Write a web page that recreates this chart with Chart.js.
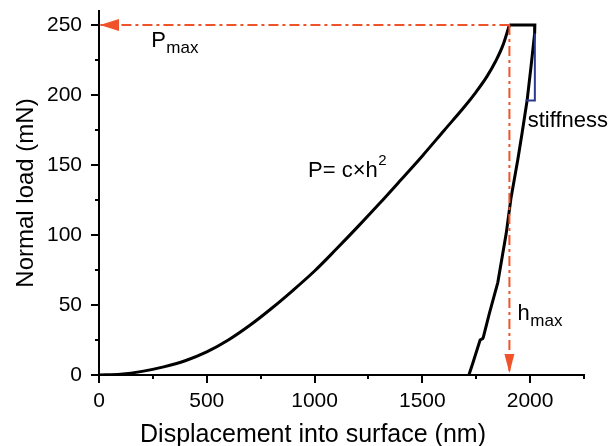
<!DOCTYPE html>
<html>
<head>
<meta charset="utf-8">
<script src="https://cdn.jsdelivr.net/npm/chart.js@4.4.1/dist/chart.umd.min.js"></script>
<style>
  html, body { margin: 0; padding: 0; background: #fff; }
  #wrap { width: 616px; height: 446px; }
</style>
</head>
<body>
<div id="wrap"><canvas id="loadCurve" width="616" height="446"></canvas></div>
<script>
// loading branch (displacement nm, load mN)
const loadH = [0, 100, 200, 300, 400, 500, 600, 700, 800, 900, 1000, 1100, 1200, 1300, 1400, 1500, 1600, 1700, 1750, 1800, 1840, 1875, 1904];
const loadP = [0, 0.6, 2.6, 5.8, 10.2, 16.5, 25, 35.5, 47.5, 60.5, 74.3, 89.8, 105.8, 122.3, 139.3, 156.5, 174.5, 192.5, 202.3, 213.3, 224.1, 236, 250];

// hold + unloading branch
const unloadH = [1904, 2022, 2021, 2004, 1986, 1963, 1943, 1911, 1889, 1850, 1811, 1783, 1780, 1768, 1734, 1716];
const unloadP = [250, 250, 244, 220, 196, 173, 154, 126, 101, 66, 44, 27, 26, 25, 8.4, 0];

// stiffness triangle
const stiffH = [1980, 2022, 2022];
const stiffP = [196, 196, 244];

// Pmax / hmax guides
const pMax = 250;
const hMax = 1904;

const xLabels = [0, 500, 1000, 1500, 2000];
const yLabels = [0, 50, 100, 150, 200, 250];

const FONT = "'Liberation Sans', Arial, Helvetica, sans-serif";
const ORANGE = '#F0522A';
const BLUE = '#2B3990';

function pts(hs, ps) {
    return hs.map((h, i) => ({x: h, y: ps[i]}));
}

const extras = {
    id: 'extras',
    afterDatasetsDraw(chart) {
        const ctx = chart.ctx;
        const x = chart.scales.x, y = chart.scales.y;
        ctx.save();
        ctx.fillStyle = ORANGE;
        // left arrow head (Pmax)
        let tx = x.getPixelForValue(0) + 1, ty = y.getPixelForValue(pMax);
        ctx.beginPath();
        ctx.moveTo(tx, ty);
        ctx.lineTo(tx + 19, ty - 6);
        ctx.lineTo(tx + 19, ty + 6);
        ctx.closePath();
        ctx.fill();
        // down arrow head (hmax)
        tx = x.getPixelForValue(hMax); ty = y.getPixelForValue(0) - 2;
        ctx.beginPath();
        ctx.moveTo(tx, ty);
        ctx.lineTo(tx - 5, ty - 19);
        ctx.lineTo(tx + 5, ty - 19);
        ctx.closePath();
        ctx.fill();

        // text labels
        ctx.fillStyle = '#000';
        ctx.textBaseline = 'alphabetic';
        ctx.textAlign = 'left';
        const sub = (main, small, h, p, superscript) => {
            const px = x.getPixelForValue(h), py = y.getPixelForValue(p);
            ctx.font = '22px ' + FONT;
            ctx.fillText(main, px, py);
            const w = ctx.measureText(main).width;
            ctx.font = (superscript ? '15px ' : '17px ') + FONT;
            ctx.fillText(small, px + w + 0.5, superscript ? py - 12 : py + 6.5);
        };
        sub('P', 'max', 242, 234.5, false);
        sub('h', 'max', 1942, 39.3, false);
        sub('P= c×h', '2', 970, 141.4, true);
        ctx.font = '22px ' + FONT;
        ctx.fillText('stiffness', x.getPixelForValue(1989), y.getPixelForValue(177));
        ctx.restore();
    },
    afterDraw(chart) {
        const ctx = chart.ctx;
        const x = chart.scales.x, y = chart.scales.y;
        ctx.save();
        ctx.strokeStyle = '#000';
        ctx.lineWidth = 2;
        x.ticks.forEach(t => {
            const px = Math.round(x.getPixelForValue(t.value));
            const len = xLabels.includes(t.value) ? 8 : 4;
            ctx.beginPath();
            ctx.moveTo(px, x.top);
            ctx.lineTo(px, x.top + len);
            ctx.stroke();
        });
        y.ticks.forEach(t => {
            const py = Math.round(y.getPixelForValue(t.value));
            const len = yLabels.includes(t.value) ? 8 : 4;
            ctx.beginPath();
            ctx.moveTo(y.right, py);
            ctx.lineTo(y.right - len, py);
            ctx.stroke();
        });
        // x axis title
        ctx.fillStyle = '#000';
        ctx.font = '25px ' + FONT;
        ctx.textAlign = 'center';
        ctx.textBaseline = 'alphabetic';
        ctx.fillText('Displacement into surface (nm)', 313, 442);
        ctx.restore();
    }
};

const ctx = document.getElementById('loadCurve');

new Chart(ctx, {
    type: 'line',
    data: {
        datasets: [
            {
                data: pts(stiffH, stiffP),
                borderColor: BLUE,
                borderWidth: 2,
                pointRadius: 0,
                tension: 0
            },
            {
                data: pts([hMax, 0], [pMax, pMax]),
                borderColor: ORANGE,
                borderWidth: 2,
                borderDash: [10, 4, 3, 4],
                pointRadius: 0
            },
            {
                data: pts([hMax, hMax], [pMax, 0]),
                borderColor: ORANGE,
                borderWidth: 2,
                borderDash: [10, 4, 3, 4],
                pointRadius: 0
            },
            {
                data: pts(unloadH, unloadP),
                borderColor: '#000',
                borderWidth: 3,
                pointRadius: 0,
                tension: 0
            },
            {
                data: pts(loadH, loadP),
                borderColor: '#000',
                borderWidth: 3,
                pointRadius: 0,
                cubicInterpolationMode: 'monotone'
            }
        ]
    },
    options: {
        responsive: false,
        animation: false,
        layout: {
            padding: {top: 11, right: 32, bottom: 0, left: 0}
        },
        scales: {
            x: {
                type: 'linear',
                min: 0,
                max: 2250,
                grid: {display: false, drawTicks: false},
                border: {display: true, color: '#000', width: 2},
                ticks: {
                    stepSize: 250,
                    autoSkip: false,
                    maxRotation: 0,
                    padding: 16,
                    color: '#000',
                    font: {size: 21, family: FONT, lineHeight: 1},
                    callback: v => xLabels.includes(v) ? String(v) : ''
                },
                afterFit(scale) {
                    scale.height = 71;
                    scale.paddingLeft = 0;
                    scale.paddingRight = 0;
                }
            },
            y: {
                min: 0,
                max: 260,
                grid: {display: false, drawTicks: false},
                border: {display: true, color: '#000', width: 2},
                ticks: {
                    stepSize: 25,
                    includeBounds: false,
                    autoSkip: false,
                    padding: 17,
                    color: '#000',
                    font: {size: 21, family: FONT, lineHeight: 1},
                    callback: v => yLabels.includes(v) ? String(v) : ''
                },
                title: {
                    display: true,
                    text: 'Normal load (mN)',
                    color: '#000',
                    font: {size: 24, family: FONT, lineHeight: 1},
                    padding: {top: 14, bottom: 0}
                },
                afterFit(scale) {
                    scale.width = 99;
                    scale.paddingTop = 0;
                    scale.paddingBottom = 0;
                }
            }
        },
        plugins: {
            legend: {display: false},
            tooltip: {enabled: false}
        }
    },
    plugins: [extras]
});
</script>
</body>
</html>
